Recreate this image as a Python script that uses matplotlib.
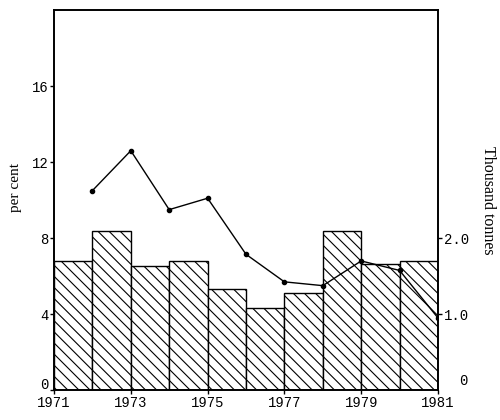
import numpy as np
import matplotlib.pyplot as plt
from matplotlib.transforms import ScaledTranslation

plt.rcParams['hatch.linewidth'] = 0.8

# bars: thousand tonnes, one per year 1971-1980
bar_years = np.array([1971, 1972, 1973, 1974, 1975, 1976, 1977, 1978, 1979, 1980])
tonnes = np.array([1.70, 2.10, 1.63, 1.70, 1.33, 1.08, 1.28, 2.10, 1.66, 1.70])

# line: per cent
line_years = np.array([1972, 1973, 1974, 1975, 1976, 1977, 1978, 1979, 1980, 1981])
per_cent = np.array([10.5, 12.6, 9.5, 10.1, 7.15, 5.7, 5.5, 6.8, 6.3, 3.8])

left_ticks = [0, 4, 8, 12, 16]
right_ticks = [0, 1, 2]
right_labels = ['0', '1.0', '2.0']
x_ticks = [1971, 1973, 1975, 1977, 1979, 1981]

fig = plt.figure(figsize=(5, 4.2), dpi=100)
ax = fig.add_axes([0.108, 0.071, 0.768, 0.905])
ax2 = ax.twinx()

ax2.bar(bar_years, tonnes, width=1.0, align='edge', facecolor='white',
        edgecolor='black', linewidth=1.0, hatch='\\\\\\')
ax2.set_ylim(0, 5)
ax2.set_yticks(right_ticks)
ax2.set_yticklabels(right_labels, family='Liberation Mono', fontsize=10)
ax2.set_ylabel('Thousand tonnes', family='Liberation Serif', fontsize=11.5,
               rotation=-90, va='center')
ax2.yaxis.set_label_coords(1.13, 0.5)

# line drawn over the bars
ax.set_zorder(ax2.get_zorder() + 1)
ax.patch.set_visible(False)
ax.plot(line_years, per_cent, color='black', linewidth=1.0, marker='o',
        markersize=3)
ax.set_ylim(0, 20)
ax.set_xlim(1971, 1981)
ax.set_yticks(left_ticks)
ax.set_yticklabels([str(t) for t in left_ticks], family='Liberation Mono',
                   fontsize=10)
ax.set_xticks(x_ticks)
ax.set_xticklabels([str(t) for t in x_ticks], family='Liberation Mono',
                   fontsize=10)
ax.set_ylabel('per cent', family='Liberation Serif', fontsize=11, va='center')
ax.yaxis.set_label_coords(-0.10, 0.534)

for a in (ax, ax2):
    a.tick_params(length=3, width=1, pad=1)
    for s in a.spines.values():
        s.set_linewidth(1.2)

# lift the two zero labels clear of the year labels
ax.get_yticklabels()[0].set_transform(
    ax.get_yticklabels()[0].get_transform() + ScaledTranslation(0, 5 / 72, fig.dpi_scale_trans))
ax2.yaxis.get_major_ticks()[0].tick2line.set_visible(False)
ax2.get_yticklabels()[0].set_transform(
    ax2.get_yticklabels()[0].get_transform() + ScaledTranslation(11 / 72, 8 / 72, fig.dpi_scale_trans))

fig.savefig('out.png', dpi=100)
